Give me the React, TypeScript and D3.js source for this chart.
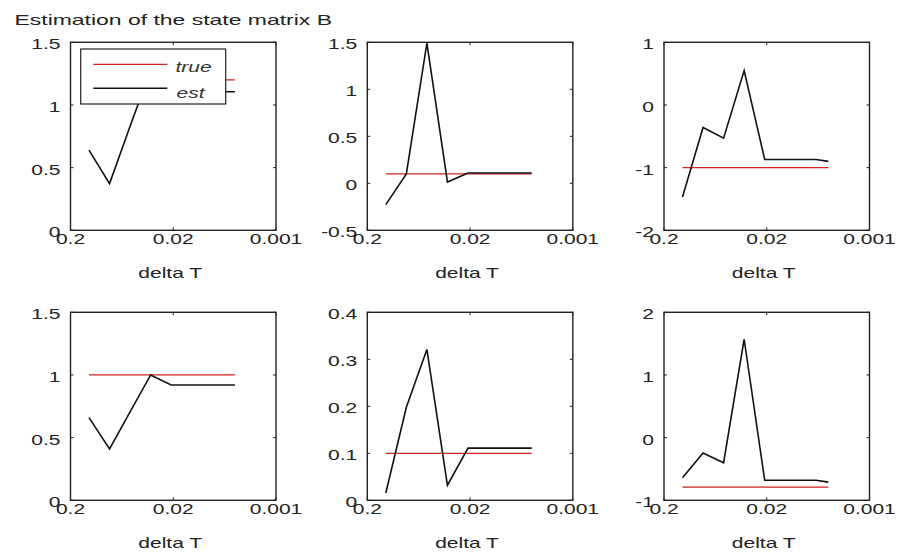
import React from "react";
import * as d3 from "d3";

// ---- data ----
const xPos = [0.9, 1.9, 2.9, 3.9, 4.9, 7.4, 8.0];
const xTickPos = [0, 5, 10];
const xTickLabels = ["0.2", "0.02", "0.001"];

const est1 = [0.64, 0.373, 0.83, 1.28, 1.12, 1.105, 1.105];
const est2 = [-0.227, 0.1, 1.49, 0.014, 0.109, 0.109, 0.109];
const est3 = [-1.47, -0.36, -0.53, 0.55, -0.87, -0.87, -0.9];
const est4 = [0.66, 0.41, 0.705, 1.0, 0.92, 0.92, 0.92];
const est5 = [0.0156, 0.198, 0.321, 0.032, 0.111, 0.111, 0.111];
const est6 = [-0.64, -0.245, -0.4, 1.57, -0.68, -0.68, -0.71];
const trueVals = [1.2, 0.1, -1, 1.0, 0.1, -0.79];

const yDomains: [number, number][] = [[0, 1.5], [-0.5, 1.5], [-2, 1], [0, 1.5], [0, 0.4], [-1, 2]];
const yTicks1 = [0, 0.5, 1, 1.5];
const yTicks2 = [-0.5, 0, 0.5, 1, 1.5];
const yTicks3 = [-2, -1, 0, 1];
const yTicks4 = [0, 0.5, 1, 1.5];
const yTicks5 = [0, 0.1, 0.2, 0.3, 0.4];
const yTicks6 = [-1, 0, 1, 2];

const titleText = "Estimation of the state matrix B";
const xLabel = "delta T";
const legendLabels = ["true", "est"];

// ---- layout ----
const colLeft = [70.5, 367.3, 664];
const rowTop = [42.3, 312.3];
const W = 205.5;
const H = 188;
const SX = 1.5;
const FS = 14;
const FONT = "'Liberation Sans', Arial, Helvetica, sans-serif";
const TXT = "#222";

const estAll = [est1, est2, est3, est4, est5, est6];
const yTicksAll = [yTicks1, yTicks2, yTicks3, yTicks4, yTicks5, yTicks6];

function T({ x, y, anchor = "start", children, italic = false, fill = TXT, sx = SX }: any) {
  return (
    <text
      transform={`translate(${x},${y}) scale(${sx},1)`}
      textAnchor={anchor}
      fontSize={FS}
      fontFamily={FONT}
      fontStyle={italic ? "italic" : "normal"}
      fill={fill}
    >
      {children}
    </text>
  );
}

function Panel({ idx }: { idx: number }) {
  const col = idx % 3;
  const row = Math.floor(idx / 3);
  const left = colLeft[col];
  const top = rowTop[row];
  const x = d3.scaleLinear().domain([0, 10]).range([left, left + W]);
  const y = d3.scaleLinear().domain(yDomains[idx]).range([top + H, top]);
  const est = estAll[idx];
  const tv = xPos.map(() => trueVals[idx]);
  const line = d3
    .line<number>()
    .x((_, k) => x(xPos[k]))
    .y((d) => y(d));
  const clipId = `clip${idx}`;
  const tl = 3;
  return (
    <g>
      <defs>
        <clipPath id={clipId}>
          <rect x={left} y={top} width={W} height={H} />
        </clipPath>
      </defs>
      <g clipPath={`url(#${clipId})`}>
        <path d={line(tv) || ""} fill="none" stroke="#d42020" strokeWidth={1.3} />
        <path d={line(est) || ""} fill="none" stroke="#111" strokeWidth={1.6} />
      </g>
      <rect x={left} y={top} width={W} height={H} fill="none" stroke="#222" strokeWidth={1.4} />
      {xTickPos.map((t, k) => (
        <g key={"xt" + k}>
          <line x1={x(t)} x2={x(t)} y1={top + H} y2={top + H - tl} stroke="#222" />
          <line x1={x(t)} x2={x(t)} y1={top} y2={top + tl} stroke="#222" />
          <T x={x(t)} y={top + H + 14} anchor="middle">
            {xTickLabels[k]}
          </T>
        </g>
      ))}
      {yTicksAll[idx].map((t, k) => (
        <g key={"yt" + k}>
          <line x1={left} x2={left + tl} y1={y(t)} y2={y(t)} stroke="#222" />
          <line x1={left + W} x2={left + W - tl} y1={y(t)} y2={y(t)} stroke="#222" />
          <T x={left - 10} y={y(t) + 7} anchor="end">
            {String(t)}
          </T>
        </g>
      ))}
      <T x={left + W / 2 - 3} y={top + H + 48} anchor="middle">
        {xLabel}
      </T>
      {idx === 0 && (
        <g>
          <rect x={80.7} y={49} width={145} height={55} fill="#fff" stroke="#222" strokeWidth={1.2} />
          <line x1={93.3} x2={167.3} y1={64.3} y2={64.3} stroke="#d42020" strokeWidth={1.3} />
          <line x1={93.3} x2={167.3} y1={88.3} y2={88.3} stroke="#111" strokeWidth={1.6} />
          <T x={175.5} y={71.5} italic fill="#333">
            {legendLabels[0]}
          </T>
          <T x={176.5} y={98} italic fill="#333">
            {legendLabels[1]}
          </T>
          <T x={left + W / 2} y={25} anchor="middle" sx={1.64}>
            {titleText}
          </T>
        </g>
      )}
    </g>
  );
}

export default function App() {
  return (
    <svg
      width={898}
      height={552}
      style={{ position: "absolute", left: 0, top: 0, background: "#fff" }}
    >
      <rect width={898} height={552} fill="#fff" />
      {[0, 1, 2, 3, 4, 5].map((i) => (
        <Panel key={i} idx={i} />
      ))}
    </svg>
  );
}
